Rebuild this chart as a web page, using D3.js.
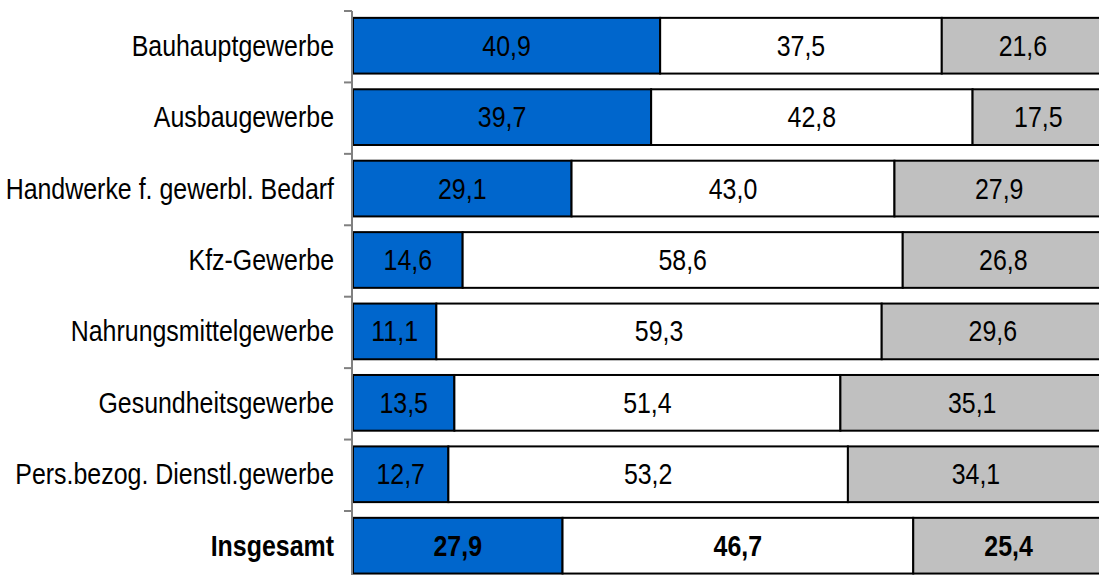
<!DOCTYPE html>
<html><head><meta charset="utf-8">
<script src="https://cdn.jsdelivr.net/npm/d3@7"></script>
<style>body{margin:0;background:#fff}svg{display:block}</style>
</head><body>
<svg id="c" width="1099" height="575"></svg>
<script>
const categories = ["Bauhauptgewerbe","Ausbaugewerbe","Handwerke f. gewerbl. Bedarf","Kfz-Gewerbe","Nahrungsmittelgewerbe","Gesundheitsgewerbe","Pers.bezog. Dienstl.gewerbe","Insgesamt"];
const series1 = [40.9,39.7,29.1,14.6,11.1,13.5,12.7,27.9];
const series2 = [37.5,42.8,43.0,58.6,59.3,51.4,53.2,46.7];
const series3 = [21.6,17.5,27.9,26.8,29.6,35.1,34.1,25.4];
const colors = ["#0066CC","#FFFFFF","#C0C0C0"];

const svg = d3.select("#c");
const x = d3.scaleLinear().domain([0,100]).range([353,1104]);
const y = d3.scaleBand().domain(categories).range([11, 582.4]).paddingInner(0.22).paddingOuter(0.11);
const yb = d3.scaleBand().domain(categories).range([11, 582.4]).padding(0);

const rows = categories.map((c,i)=>({c, vals:[series1[i],series2[i],series3[i]], bold: c==="Insgesamt"}));
const segs = [];
rows.forEach(r=>{let acc=0; r.vals.forEach((v,k)=>{segs.push({c:r.c,x0:acc,x1:acc+v,v,k,bold:r.bold}); acc+=v;});});

const fmt = v => v.toFixed(1).replace(".", ",");
const SX = 0.86;

svg.append("g").selectAll("rect").data(segs).join("rect")
  .attr("x", d=>x(d.x0)).attr("width", d=>x(d.x1)-x(d.x0))
  .attr("y", d=>y(d.c)-1).attr("height", y.bandwidth())
  .attr("fill", d=>colors[d.k]).attr("stroke","#000").attr("stroke-width",2);

svg.append("g").selectAll("text").data(segs).join("text")
  .attr("transform", d=>`translate(${(x(d.x0)+x(d.x1))/2},${y(d.c)-1+y.bandwidth()/2+10}) scale(${SX},1)`)
  .attr("text-anchor","middle")
  .style("font-family","'Liberation Sans', Arial, sans-serif")
  .style("font-size","29px")
  .style("font-weight", d=>d.bold?"bold":"normal")
  .attr("fill","#000")
  .text(d=>fmt(d.v));

// axis
const ax = svg.append("g");
ax.append("line").attr("x1",352).attr("x2",352).attr("y1",yb.range()[0]).attr("y2",575)
  .attr("stroke","#808080").attr("stroke-width",2);
const tickPos = categories.map(c=>yb(c));
ax.selectAll("line.t").data(tickPos).join("line").attr("class","t")
  .attr("x1",344).attr("x2",352).attr("y1",d=>d).attr("y2",d=>d)
  .attr("stroke","#808080").attr("stroke-width",2);

svg.append("g").selectAll("text").data(rows).join("text")
  .attr("transform", d=>`translate(334,${y(d.c)-1+y.bandwidth()/2+10}) scale(${SX},1)`)
  .attr("text-anchor","end")
  .style("font-family","'Liberation Sans', Arial, sans-serif")
  .style("font-size","29px")
  .style("font-weight", d=>d.bold?"bold":"normal")
  .attr("fill","#000")
  .text(d=>d.c);
</script>
</body></html>
